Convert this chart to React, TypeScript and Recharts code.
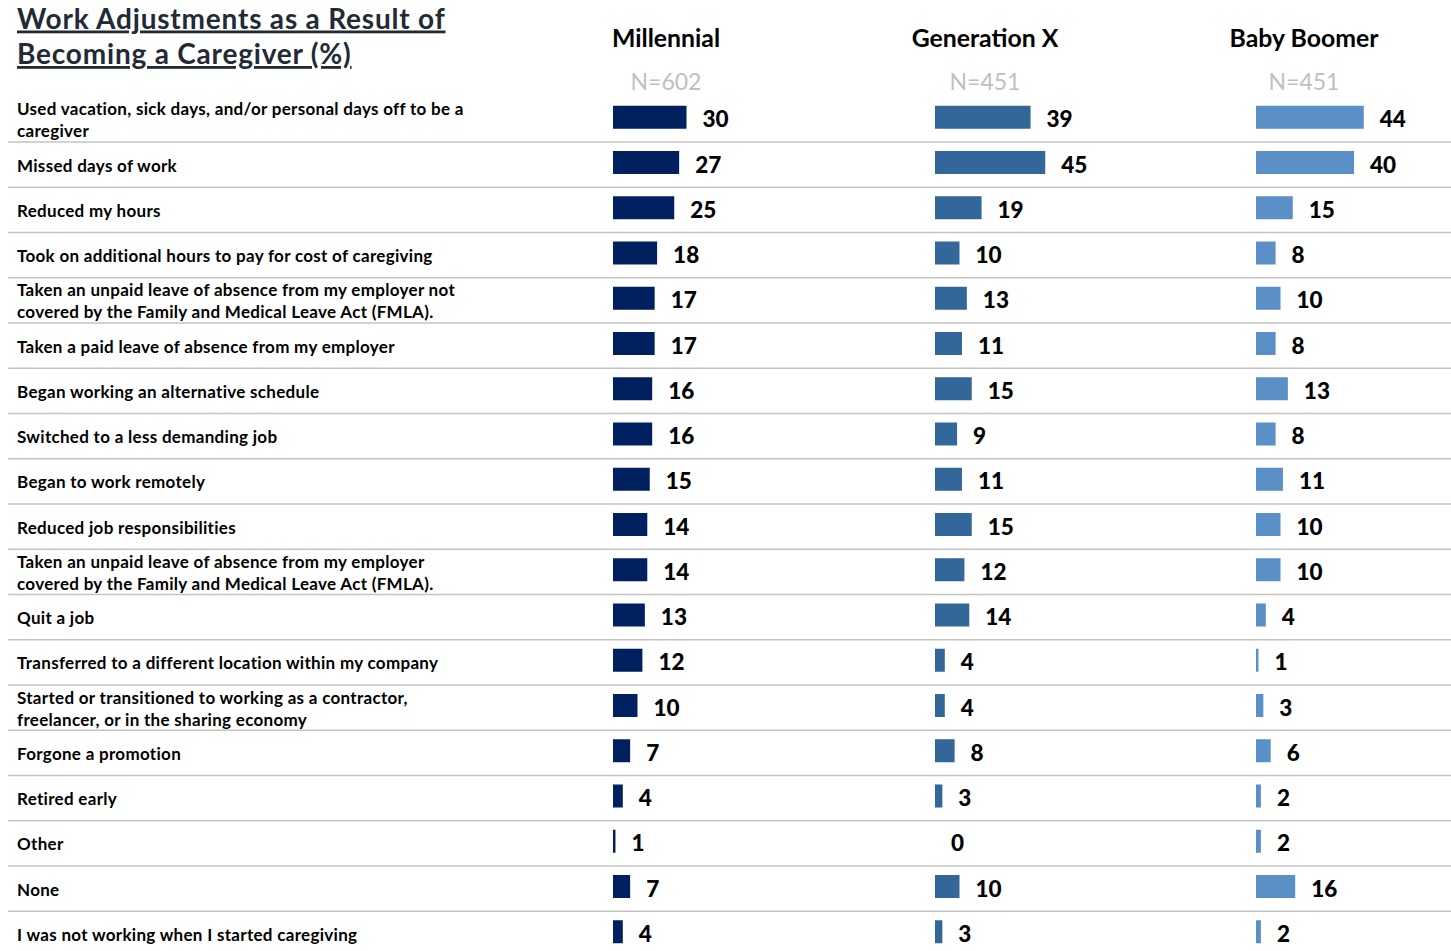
import React from 'react';
import { BarChart, Bar, XAxis, YAxis, LabelList } from 'recharts';

const categories: string[] = [
  'Used vacation, sick days, and/or personal days off to be a\ncaregiver',
  'Missed days of work',
  'Reduced my hours',
  'Took on additional hours to pay for cost of caregiving',
  'Taken an unpaid leave of absence from my employer not\ncovered by the Family and Medical Leave Act (FMLA).',
  'Taken a paid leave of absence from my employer',
  'Began working an alternative schedule',
  'Switched to a less demanding job',
  'Began to work remotely',
  'Reduced job responsibilities',
  'Taken an unpaid leave of absence from my employer\ncovered by the Family and Medical Leave Act (FMLA).',
  'Quit a job',
  'Transferred to a different location within my company',
  'Started or transitioned to working as a contractor,\nfreelancer, or in the sharing economy',
  'Forgone a promotion',
  'Retired early',
  'Other',
  'None',
  'I was not working when I started caregiving',
];
const millennial: number[] = [30, 27, 25, 18, 17, 17, 16, 16, 15, 14, 14, 13, 12, 10, 7, 4, 1, 7, 4];
const generationX: number[] = [39, 45, 19, 10, 13, 11, 15, 9, 11, 15, 12, 14, 4, 4, 8, 3, 0, 10, 3];
const babyBoomer: number[] = [44, 40, 15, 8, 10, 8, 13, 8, 11, 10, 10, 4, 1, 3, 6, 2, 2, 16, 2];
const generations: string[] = ['Millennial', 'Generation X', 'Baby Boomer'];
const sampleSizes: string[] = ['N=602', 'N=451', 'N=451'];
const titleLines: string[] = ['Work Adjustments as a Result of', 'Becoming a Caregiver (%)'];

const data = categories.map((c, i) => ({
  category: c,
  millennial: millennial[i],
  genX: generationX[i],
  boomer: babyBoomer[i],
}));

const FONT = 'Lato, "Open Sans", sans-serif';
const W = 1451;
const H = 951;
const CHART_H = 960;
const TOP = 96.75;
const BAND = 45.25;
const PLOT_H = BAND * categories.length;
const BOTTOM = CHART_H - TOP - PLOT_H;
const PLOT_W = 245; // 0..100 at ~2.45 px per point
const BAR_SHIFT = -2;
const colors = ['#002060', '#336699', '#5B8FC8'];
const keys = ['millennial', 'genX', 'boomer'];
const colLeft = [613, 935, 1256];

const CategoryTick = (props: any) => {
  const { y, payload, index } = props;
  const lines = String(payload.value).split('\n');
  const half = payload && typeof payload.offset === 'number' && payload.offset > 0 ? payload.offset : BAND / 2;
  const lh = 22;
  const startY = y + 1 - ((lines.length - 1) * lh) / 2;
  return (
    <g>
      <text x={17} y={startY} fontSize={17} fontWeight={700} fill="#000" fontFamily={FONT} letterSpacing={0.3}>
        {lines.map((l, i) => (
          <tspan key={i} x={17} y={startY + i * lh} dy="0.36em">
            {l}
          </tspan>
        ))}
      </text>
      {index < categories.length - 1 && (
        <line x1={8} x2={W} y1={y + half} y2={y + half} stroke="#C3C3C3" strokeWidth={1.6} />
      )}
    </g>
  );
};

const BarShape = (props: any) => {
  const { x, y, width, height, fill } = props;
  if (!width || width <= 0) return <g />;
  return <rect x={x} y={y + BAR_SHIFT} width={width} height={height} fill={fill} />;
};

const ValueLabel = (props: any) => {
  const { x, y, width, height, value } = props;
  return (
    <text
      x={x + (width || 0) + 16}
      y={y + height / 2}
      dy="0.36em"
      fontSize={22.5}
      fontWeight={900}
      fill="#000"
      fontFamily={FONT}
    >
      {value}
    </text>
  );
};

const GenChart = ({ idx, withLabels }: { idx: number; withLabels: boolean }) => {
  const left = withLabels ? 0 : colLeft[idx];
  const yw = withLabels ? colLeft[idx] : 0;
  const width = withLabels ? W : PLOT_W + 100;
  const rightMargin = width - yw - PLOT_W;
  return (
    <div style={{ position: 'absolute', left, top: 0 }}>
      <BarChart
        width={width}
        height={CHART_H}
        data={data}
        layout="vertical"
        margin={{ top: TOP, bottom: BOTTOM, left: 0, right: rightMargin }}
        barCategoryGap={0}
        barSize={23}
      >
        <XAxis type="number" domain={[0, 100]} hide />
        <YAxis
          type="category"
          dataKey="category"
          width={yw}
          hide={!withLabels}
          axisLine={false}
          tickLine={false}
          interval={0}
          tick={<CategoryTick />}
        />
        <Bar dataKey={keys[idx]} fill={colors[idx]} isAnimationActive={false} shape={<BarShape />}>
          <LabelList dataKey={keys[idx]} content={<ValueLabel />} />
        </Bar>
      </BarChart>
    </div>
  );
};

export default function App() {
  const headerCenters = [666, 985, 1304];
  return (
    <div
      style={{
        position: 'absolute',
        left: 0,
        top: 0,
        width: W,
        height: H,
        overflow: 'hidden',
        background: '#fff',
        fontFamily: FONT,
      }}
    >
      <GenChart idx={0} withLabels={true} />
      <GenChart idx={1} withLabels={false} />
      <GenChart idx={2} withLabels={false} />
      <svg
        width={W}
        height={H}
        style={{ position: 'absolute', left: 0, top: 0, pointerEvents: 'none' }}
      >
        {titleLines.map((t, i) => (
          <text
            key={t}
            x={17}
            y={28.5 + i * 35.5}
            fontSize={28}
            fontWeight={700}
            fill="#222A35"
            fontFamily={FONT}
            letterSpacing={0.8}
            style={{ textDecoration: 'underline' }}
          >
            {t}
          </text>
        ))}
        {generations.map((g, i) => (
          <text
            key={g}
            x={headerCenters[i]}
            y={47}
            textAnchor="middle"
            fontSize={24.8}
            fontWeight={700}
            fill="#000"
            fontFamily={FONT}
          >
            {g}
          </text>
        ))}
        {sampleSizes.map((n, i) => (
          <text
            key={i}
            x={headerCenters[i]}
            y={90}
            textAnchor="middle"
            fontSize={23}
            fill="#BFBFBF"
            fontFamily={FONT}
          >
            {n}
          </text>
        ))}
      </svg>
    </div>
  );
}
